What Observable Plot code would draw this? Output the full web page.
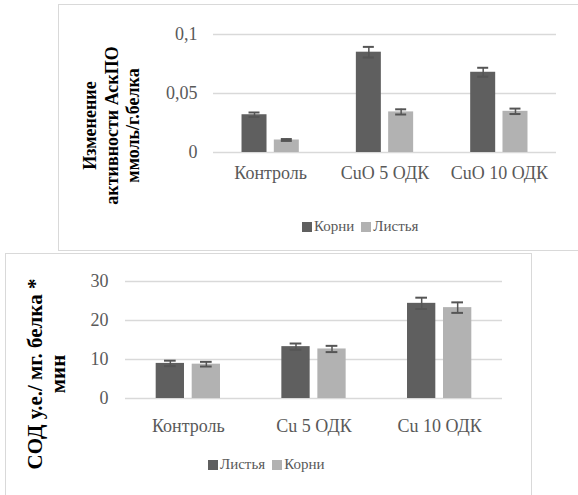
<!DOCTYPE html>
<html>
<head>
<meta charset="utf-8">
<script src="https://cdn.jsdelivr.net/npm/d3@7"></script>
<script src="https://cdn.jsdelivr.net/npm/@observablehq/plot@0.6"></script>
<style>
  html, body { margin: 0; padding: 0; background: #fff; }
  body { width: 578px; height: 495px; position: relative; overflow: hidden; font-family: "Liberation Serif", "Times New Roman", serif; }
  .box { position: absolute; border: 1.5px solid #d9d9d9; box-sizing: border-box; background: #fff; }
  .chart { position: absolute; left: 0; }
  .chart svg, .chart svg text { font-family: "Liberation Serif", "Times New Roman", serif !important; }
  .leg { position: absolute; }
  .leg, .leg * { font-family: "Liberation Serif", "Times New Roman", serif !important; }
  .lg-swatch { margin-right: 7px !important; }
  .lg-swatch > svg { margin-right: 2px !important; }
</style>
</head>
<body>
<div class="box" style="left:58px; top:4px; width:540px; height:247px;"></div>
<div class="box" style="left:5px; top:253px; width:527px; height:260px;"></div>
<div id="top" class="chart" style="top:0px;"></div>
<div id="topLeg" class="leg" style="left:302px; top:210px;"></div>
<div id="bot" class="chart" style="top:253px;"></div>
<div id="botLeg" class="leg" style="left:208px; top:448px;"></div>
<script>
// ---- Data: top chart (АскПО) ----
const topCats = ["Контроль", "CuO 5 ОДК", "CuO 10 ОДК"];
const topSeries = ["Корни", "Листья"];
const topKorni = [0.032, 0.085, 0.068];
const topKorniErr = [0.0019, 0.0045, 0.0038];
const topListya = [0.0106, 0.0344, 0.0349];
const topListyaErr = [0.0008, 0.0022, 0.0023];
const topYTicks = [0, 0.05, 0.1];
const topTitle = "Изменение\nактивности АскПО\nммоль/г.белка";

// ---- Data: bottom chart (СОД) ----
const botCats = ["Контроль", "Cu 5 ОДК", "Cu 10 ОДК"];
const botSeries = ["Листья", "Корни"];
const botListya = [9.0, 13.3, 24.4];
const botListyaErr = [0.7, 0.8, 1.45];
const botKorni = [8.8, 12.7, 23.3];
const botKorniErr = [0.6, 0.8, 1.35];
const botYTicks = [0, 10, 20, 30];
const botTitle = "СОД у.е./ мг. белка *\nмин";

const serif = "'Liberation Serif', 'Times New Roman', serif";
const colors = ["#5f5f5f", "#b2b2b2"];
const errColor = "#555555";
const gridColor = "#d9d9d9";
const fmt = d => String(d).replace(".", ",");

function rows(cats, vals, errs) {
  return cats.map((c, i) => ({cat: c, v: vals[i], e: errs[i]}));
}

function makeChart(o) {
  const bw = (o.width - o.ml - o.mr) / o.cats.length;
  const c = bw / 2;
  const left0 = c - o.gap / 2 - o.barW;
  const left1 = c + o.gap / 2;
  const dx0 = -(o.gap / 2 + o.barW / 2);
  const dx1 = (o.gap / 2 + o.barW / 2);
  const capInset = (bw - o.capW) / 2;
  const s0 = rows(o.cats, o.vals0, o.errs0);
  const s1 = rows(o.cats, o.vals1, o.errs1);
  const errMarks = (data, dx) => [
    Plot.ruleX(data, {x: "cat", y1: d => d.v - d.e, y2: d => d.v + d.e, dx, stroke: errColor, strokeWidth: 1.5}),
    Plot.tickY(data, {x: "cat", y: d => d.v + d.e, dx, insetLeft: capInset, insetRight: capInset, stroke: errColor, strokeWidth: 2}),
    Plot.tickY(data, {x: "cat", y: d => d.v - d.e, dx, insetLeft: capInset, insetRight: capInset, stroke: errColor, strokeWidth: 2})
  ];
  return Plot.plot({
    width: o.width,
    height: o.height,
    marginLeft: o.ml,
    marginRight: o.mr,
    marginTop: o.mt,
    marginBottom: o.mb,
    style: {fontFamily: serif, color: "#595959", background: "transparent", overflow: "visible"},
    x: {type: "band", domain: o.cats, padding: 0, round: false, label: null},
    y: {domain: o.yDomain, label: null},
    marks: [
      Plot.gridY(o.yTicks, {stroke: gridColor, strokeOpacity: 1, strokeWidth: 1.5}),
      Plot.barY(s0, {x: "cat", y: "v", fill: colors[0], insetLeft: left0, insetRight: bw - left0 - o.barW}),
      Plot.barY(s1, {x: "cat", y: "v", fill: colors[1], insetLeft: left1, insetRight: bw - left1 - o.barW}),
      ...errMarks(s0, dx0),
      ...errMarks(s1, dx1),
      Plot.axisY({ticks: o.yTicks, tickFormat: fmt, tickSize: 0, tickPadding: o.yPad, fontSize: 18, fontFamily: serif, fontVariant: "normal", label: null}),
      Plot.axisX({tickSize: 0, tickPadding: o.xPad, fontSize: 18, fontFamily: serif, label: null}),
      Plot.text([o.title], {frameAnchor: "left", textAnchor: "middle", lineAnchor: "middle", dx: o.tdx, dy: o.tdy, rotate: -90, lineHeight: o.tlh, fontWeight: "bold", fontSize: o.tfs, fontFamily: serif, fill: "#000"})
    ]
  });
}

function makeLegend(series) {
  return Plot.legend({
    color: {type: "ordinal", domain: series, range: colors},
    legend: "swatches",
    swatchSize: 10,
    className: "lg",
    style: {fontFamily: serif, fontSize: "15px", color: "#595959", background: "transparent"}
  });
}

document.getElementById("top").append(makeChart({
  width: 578, height: 250, ml: 213, mr: 22, mt: 34, mb: 98,
  cats: topCats, vals0: topKorni, errs0: topKorniErr, vals1: topListya, errs1: topListyaErr,
  yDomain: [0, 0.1], yTicks: topYTicks, barW: 25, gap: 7.3, capW: 11,
  yPad: 16, xPad: 14, title: topTitle, tdx: -103, tdy: 32, tfs: 18, tlh: 1.22
}));
document.getElementById("topLeg").append(makeLegend(topSeries));

document.getElementById("bot").append(makeChart({
  width: 578, height: 242, ml: 125, mr: 76, mt: 28, mb: 97,
  cats: botCats, vals0: botListya, errs0: botListyaErr, vals1: botKorni, errs1: botKorniErr,
  yDomain: [0, 30], yTicks: botYTicks, barW: 28.3, gap: 7.7, capW: 11.7,
  yPad: 17, xPad: 21, title: botTitle, tdx: -79, tdy: 34, tfs: 21, tlh: 1.08
}));
document.getElementById("botLeg").append(makeLegend(botSeries));
</script>
</body>
</html>
